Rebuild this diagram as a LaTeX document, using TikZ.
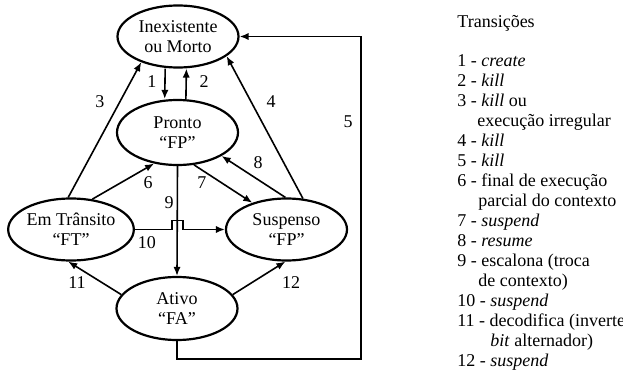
\documentclass[tikz,border=0pt]{standalone}
\usepackage{fontspec}
\setmainfont{Liberation Serif}
\usetikzlibrary{arrows.meta,calc,shapes.geometric}

\tikzset{
  estado/.style={draw, ellipse, line width=1.1pt, inner sep=0pt,
    minimum width=60.5pt, minimum height=31pt, align=center},
  seta/.style={-{Latex[length=4.5pt,width=3.6pt]}, line width=0.8pt},
  rotulo/.style={inner sep=1pt}
}

\begin{document}
\begin{tikzpicture}[x=0.5pt, y=-0.5pt, font=\fontsize{9}{10}\selectfont]
  \useasboundingbox (0,0) rectangle (623,370);
  % estados
  \node[estado] (inex) at (178,36.5) {Inexistente\\ou Morto};
  \node[estado, minimum height=32.5pt] (pro) at (177.5,132.5) {Pronto\\“FP”};
  \node[estado] (emt) at (71,229.5) {Em Trânsito\\“FT”};
  \node[estado] (susp) at (286.5,229.5) {Suspenso\\“FP”};
  \node[estado, minimum height=31.5pt] (ativo) at (177,308.5) {Ativo\\“FA”};
  \coordinate (canto) at (361,359);
  % transicoes
  \draw[seta] ([xshift=-6.4pt]inex.south) -- ([xshift=-6.4pt]pro.north);
  \draw[seta] ([xshift=4.2pt]pro.north) -- ([xshift=4.2pt]inex.south);
  \draw[seta] (emt.95) -- (inex.215);
  \draw[seta] (susp.62) -- (inex.338);
  \draw[seta] (ativo.south) |- (canto) |- (inex.east);
  \draw[seta] (emt.55) -- (pro.233);
  \draw[seta] (pro.297) -- (susp.142);
  \draw[seta] (susp.92) -- (pro.332);
  \draw[seta] (pro.south) -- (ativo.north);
  \draw[seta] (emt.east) -- ($(pro.south |- emt.east)+(-5.5,0)$)
    -- ++(0,-9) -- ++(11,0) -- ++(0,9) -- (susp.west);
  \draw[seta] (ativo.166) -- (emt.265);
  \draw[seta] (ativo.14) -- (susp.268);
  % numeros
  \foreach \n/\x/\y in {1/152/82, 2/204/82, 3/100/102, 4/271/102, 5/348/122,
      6/148/183, 7/202/183, 8/258/163, 9/169/203, 10/147/243, 11/77/283, 12/291/283}
    \node[rotulo] (n\n) at (\x,\y) {\n};
  % legenda
  \node[anchor=north west, align=left, inner sep=0pt] (legenda) at (457,15) {%
    Transições\\[9.5pt]
    1 - \textit{create}\\
    2 - \textit{kill}\\
    3 - \textit{kill} ou\\
    \hspace*{10pt}execução irregular\\
    4 - \textit{kill}\\
    5 - \textit{kill}\\
    6 - final de execução\\
    \hspace*{10.5pt}parcial do contexto\\
    7 - \textit{suspend}\\
    8 - \textit{resume}\\
    9 - escalona (troca\\
    \hspace*{10.5pt}de contexto)\\
    10 - \textit{suspend}\\
    11 - decodifica (inverte\\
    \hspace*{16.5pt}\textit{bit} alternador)\\
    12 - \textit{suspend}};
\end{tikzpicture}
\end{document}
